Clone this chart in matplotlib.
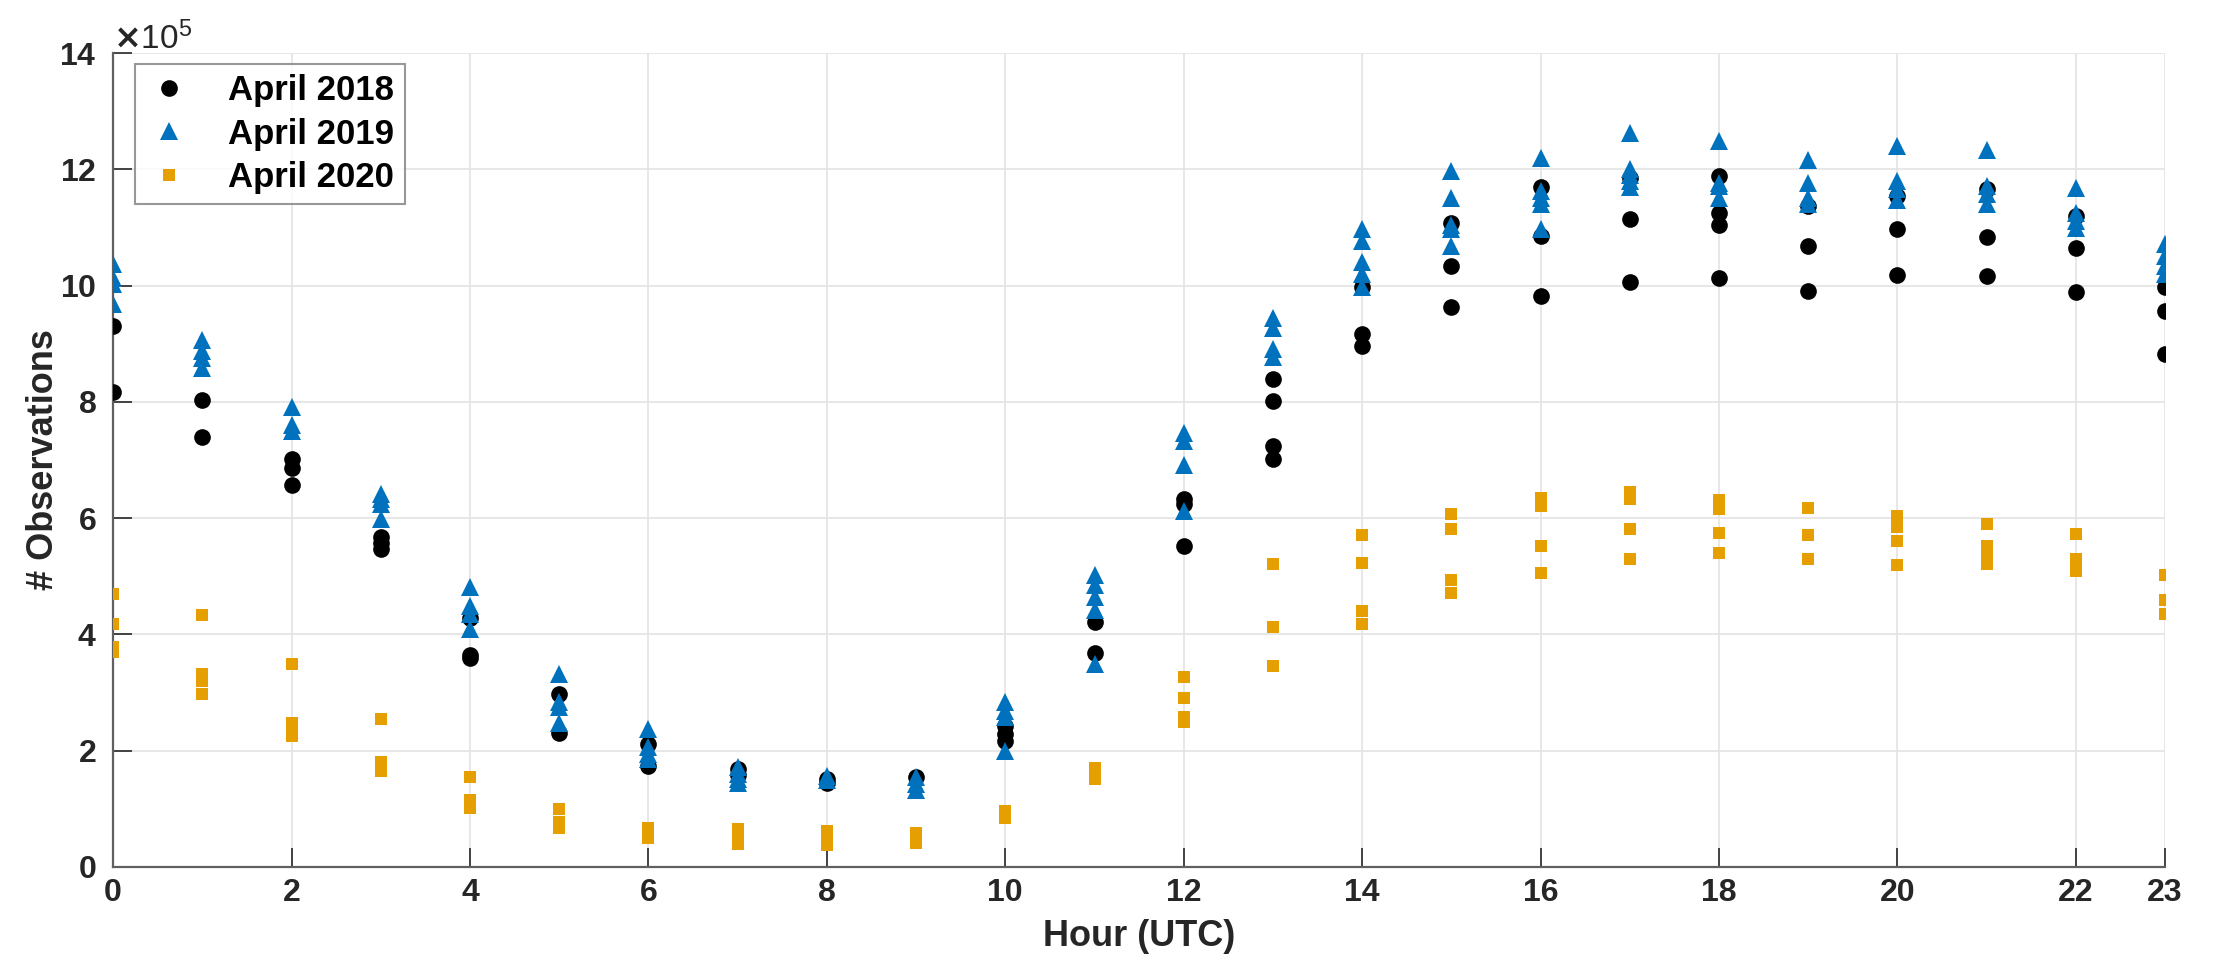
import matplotlib
matplotlib.use("Agg")
import matplotlib.pyplot as plt
from matplotlib.ticker import ScalarFormatter, FixedLocator

plt.rcParams['font.family'] = ['Liberation Sans', 'DejaVu Sans']
plt.rcParams['font.weight'] = 'bold'

# Values in units of 1e5 observations, one list per UTC hour (0..23)
hours = list(range(24))
obs_2018 = [
    [9.31, 8.17], [8.03, 7.39], [7.02, 6.87, 6.57], [5.68, 5.58, 5.47],
    [4.29, 3.64, 3.60], [2.97, 2.31], [2.12, 1.74], [1.68, 1.58],
    [1.51, 1.45], [1.55], [2.42, 2.29, 2.16], [4.21, 3.68],
    [6.33, 6.25, 5.52], [8.39, 8.01, 7.24, 7.01], [9.97, 9.16, 8.96],
    [11.08, 10.33, 9.63], [11.70, 10.85, 9.82], [11.85, 11.15, 10.07],
    [11.89, 11.25, 11.05, 10.13], [11.37, 10.68, 9.91], [11.54, 10.97, 10.19],
    [11.67, 10.84, 10.16], [11.20, 10.64, 9.89], [9.98, 9.57, 8.83],
]
obs_2019 = [
    [10.38, 10.14, 10.03, 9.68], [9.07, 8.87, 8.75, 8.58], [7.91, 7.60, 7.50],
    [6.41, 6.33, 6.24, 5.98], [4.81, 4.49, 4.35, 4.09], [3.32, 2.83, 2.75, 2.48],
    [2.37, 2.06, 1.94, 1.86], [1.72, 1.60, 1.52, 1.45], [1.56, 1.50],
    [1.54, 1.43, 1.33], [2.83, 2.69, 2.58, 2.00], [5.02, 4.85, 4.65, 4.42, 3.50],
    [7.47, 7.33, 6.92, 6.12], [9.45, 9.28, 8.91, 8.77],
    [10.97, 10.76, 10.40, 10.20, 9.97], [11.97, 11.51, 11.05, 10.97, 10.68],
    [12.20, 11.63, 11.51, 11.40, 10.97], [12.63, 12.00, 11.90, 11.80, 11.70],
    [12.49, 11.77, 11.71, 11.51], [12.16, 11.77, 11.51, 11.40],
    [12.40, 11.80, 11.66, 11.48], [12.34, 11.71, 11.57, 11.40],
    [11.68, 11.25, 11.11, 11.00], [10.71, 10.51, 10.34, 10.20],
]
obs_2020 = [
    [4.70, 4.18, 3.78, 3.69], [4.34, 3.32, 3.20, 2.98], [3.49, 2.48, 2.37, 2.25],
    [2.55, 1.80, 1.65], [1.55, 1.16, 1.02], [1.00, 0.78, 0.67],
    [0.67, 0.58, 0.50], [0.65, 0.50, 0.39], [0.62, 0.50, 0.37], [0.59, 0.42],
    [0.97, 0.85], [1.71, 1.51], [3.27, 2.90, 2.58, 2.50], [5.21, 4.13, 3.46],
    [5.71, 5.23, 4.41, 4.18], [6.07, 5.81, 4.93, 4.72], [6.35, 6.21, 5.53, 5.05],
    [6.45, 6.33, 5.81, 5.30], [6.32, 6.15, 5.74, 5.40], [6.18, 5.71, 5.29],
    [6.04, 5.85, 5.60, 5.20], [5.90, 5.53, 5.36, 5.21], [5.73, 5.30, 5.10],
    [5.02, 4.59, 4.36],
]
labels = ["April 2018", "April 2019", "April 2020"]
x_ticks = [0, 2, 4, 6, 8, 10, 12, 14, 16, 18, 20, 22, 23]
y_ticks = [0, 2, 4, 6, 8, 10, 12, 14]
SCALE = 1e5


def flatten(series):
    xs, ys = [], []
    for h, vals in zip(hours, series):
        for v in vals:
            xs.append(h)
            ys.append(v * SCALE)
    return xs, ys


fig = plt.figure(figsize=(22.19, 9.66), dpi=100)
ax = fig.add_axes([0.051, 0.1025, 0.9247, 0.8425])

axc = '#262626'
styles = [
    dict(marker='o', color='black', ms=12),
    dict(marker='^', color='#0072BD', ms=13),
    dict(marker='s', color='#E69F00', ms=8),
]
for series, lab, st in zip([obs_2018, obs_2019, obs_2020], labels, styles):
    xs, ys = flatten(series)
    ax.plot(xs, ys, linestyle='none', marker=st['marker'], color=st['color'],
            markersize=st['ms'], markeredgewidth=0, label=lab, zorder=3)

ax.set_xlim(0, 23)
ax.set_ylim(0, 14 * SCALE)
ax.xaxis.set_major_locator(FixedLocator(x_ticks))
ax.set_xticklabels([str(t) for t in x_ticks])
ax.set_yticks([t * SCALE for t in y_ticks])
fmt = ScalarFormatter(useMathText=True)
fmt.set_powerlimits((5, 5))
ax.yaxis.set_major_formatter(fmt)
off = ax.yaxis.get_offset_text()
off.set_fontsize(24)
off.set_fontweight('normal')
off.set_color(axc)

ax.grid(True, color='#e3e3e3', linewidth=1.2, zorder=0)
ax.set_axisbelow(True)
for s in ['top', 'right']:
    ax.spines[s].set_visible(False)
for s in ['left', 'bottom']:
    ax.spines[s].set_color('#606060')
    ax.spines[s].set_linewidth(1.6)

ax.tick_params(axis='both', direction='in', length=14, width=1.2,
               colors=axc, labelsize=23, pad=8)
ax.tick_params(axis='y', pad=12)
for lbl in ax.get_xticklabels() + ax.get_yticklabels():
    lbl.set_fontweight('bold')

ax.set_xlabel('Hour (UTC)', fontsize=26, fontweight='bold', color=axc, va='center')
ax.set_ylabel('# Observations', fontsize=26, fontweight='bold', color=axc, va='center')
ax.xaxis.set_label_coords(0.5, -0.086)
ax.yaxis.set_label_coords(-0.034, 0.5)

leg = ax.legend(loc='upper left', bbox_to_anchor=(0.0105, 0.987), fontsize=25,
                frameon=True, fancybox=False, edgecolor='#7f7f7f',
                handletextpad=1.0, borderpad=0.3, labelspacing=0.3,
                handlelength=1.4, borderaxespad=0)
leg.get_frame().set_linewidth(1.5)
for t in leg.get_texts():
    t.set_fontweight('bold')

fig.savefig('out.png', dpi=100, facecolor='white')
